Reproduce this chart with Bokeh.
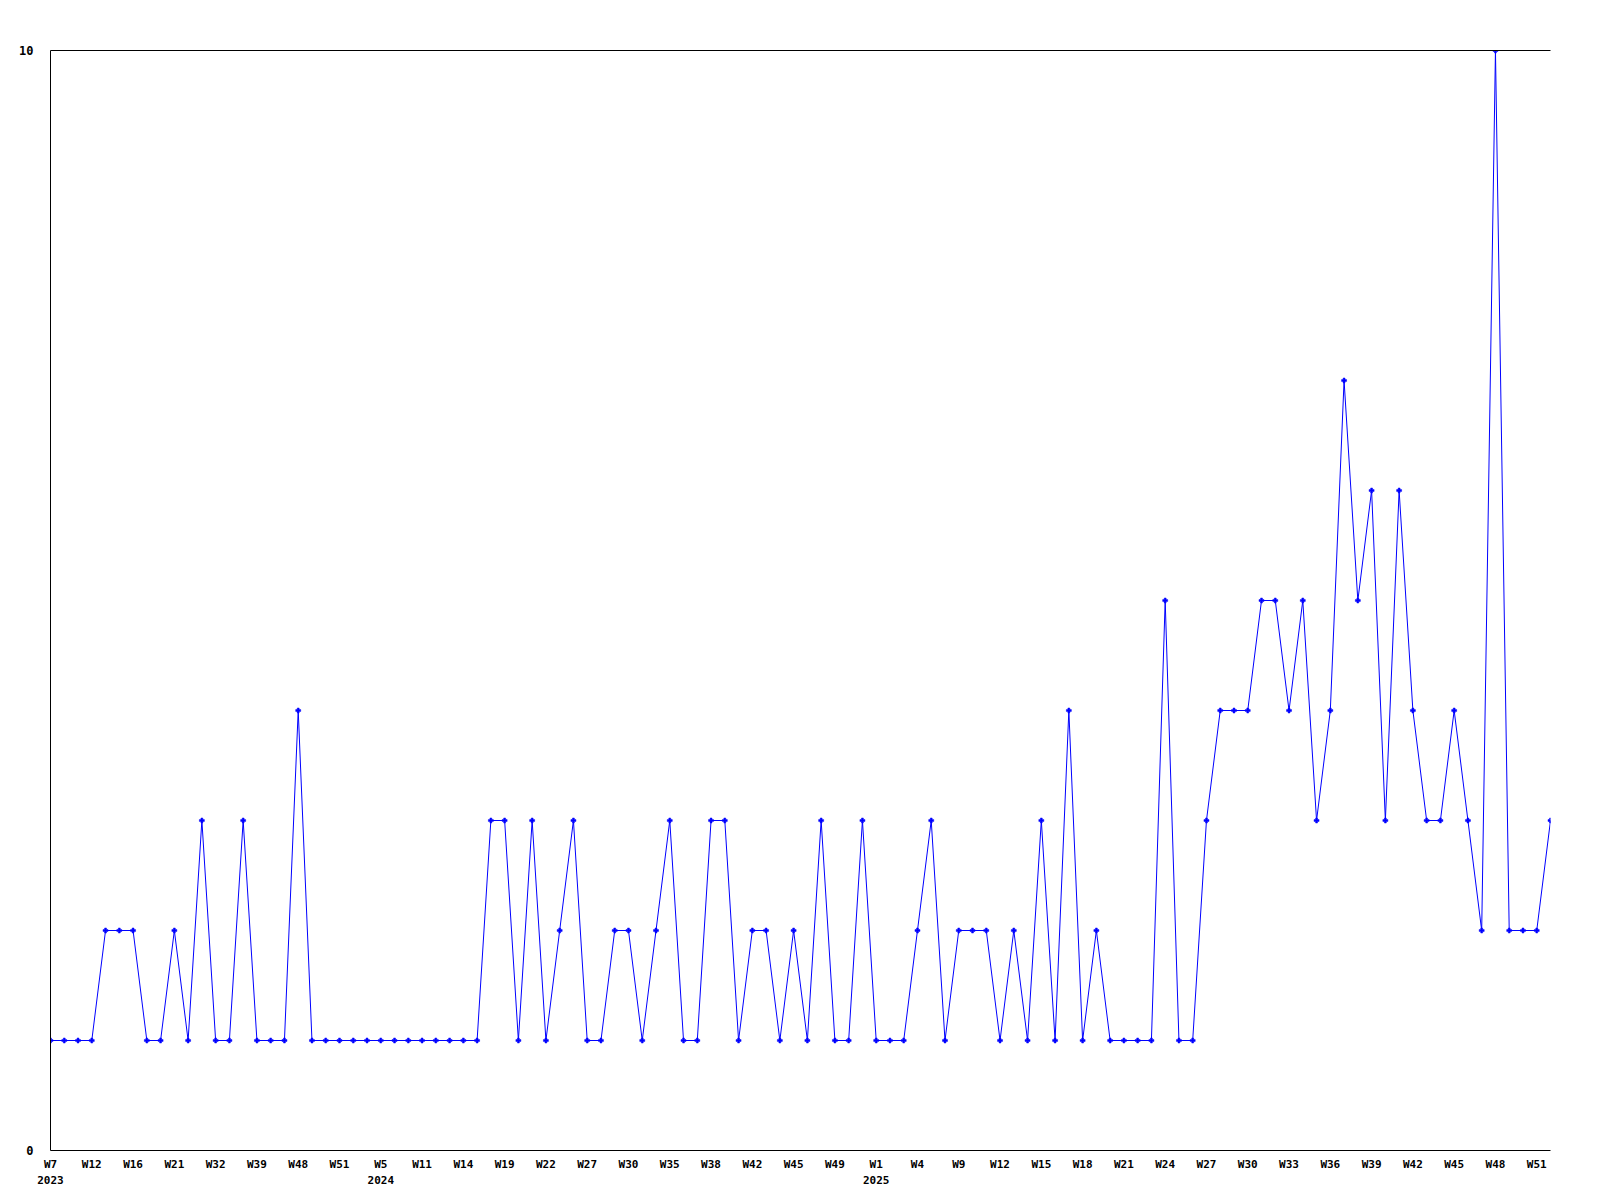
from bokeh.plotting import figure
from bokeh.models import Range1d, FixedTicker, LinearAxis
from bokeh.embed import file_html
from bokeh.resources import INLINE

# weekly counts, one per point (index 0 .. 109)
values = [
    1, 1, 1, 1, 2, 2, 2, 1, 1, 2,
    1, 3, 1, 1, 3, 1, 1, 1, 4, 1,
    1, 1, 1, 1, 1, 1, 1, 1, 1, 1,
    1, 1, 3, 3, 1, 3, 1, 2, 3, 1,
    1, 2, 2, 1, 2, 3, 1, 1, 3, 3,
    1, 2, 2, 1, 2, 1, 3, 1, 1, 3,
    1, 1, 1, 2, 3, 1, 2, 2, 2, 1,
    2, 1, 3, 1, 4, 1, 2, 1, 1, 1,
    1, 5, 1, 1, 3, 4, 4, 4, 5, 5,
    4, 5, 3, 4, 7, 5, 6, 3, 6, 4,
    3, 3, 4, 3, 2, 10, 2, 2, 2, 3,
]
x = list(range(len(values)))

# x tick labels (every third point)
tick_labels = [
    "W7", "W12", "W16", "W21", "W32", "W39", "W48", "W51", "W5", "W11",
    "W14", "W19", "W22", "W27", "W30", "W35", "W38", "W42", "W45", "W49",
    "W1", "W4", "W9", "W12", "W15", "W18", "W21", "W24", "W27", "W30",
    "W33", "W36", "W39", "W42", "W45", "W48", "W51",
]
tick_pos = [3 * i for i in range(len(tick_labels))]

year_labels = ["2023", "2024", "2025"]
year_pos = [0, 24, 60]

y_ticks = [0, 10]

FONT = "DejaVu Sans Mono"

p = figure(
    frame_width=1500, frame_height=1100,
    min_border_left=50, min_border_top=50, min_border_right=42, min_border_bottom=42,
    x_range=Range1d(0, len(values) - 1), y_range=Range1d(0, max(values)),
    output_backend="svg", toolbar_location=None,
    x_axis_location=None, y_axis_location=None,
)
p.outline_line_color = None
p.xgrid.visible = False
p.ygrid.visible = False
p.background_fill_color = "white"
p.border_fill_color = "white"

def style_axis(ax):
    ax.major_tick_line_color = None
    ax.minor_tick_line_color = None
    ax.major_label_text_font = FONT
    ax.major_label_text_font_style = "bold"
    ax.major_label_text_font_size = "11px"
    ax.major_label_text_color = "black"
    ax.axis_line_color = "black"
    ax.axis_line_width = 1

# left axis
ya = LinearAxis(ticker=FixedTicker(ticks=y_ticks))
style_axis(ya)
ya.major_label_text_font_size = "12px"
ya.major_label_standoff = 11
p.add_layout(ya, "left")

# bottom week axis
xa = LinearAxis(ticker=FixedTicker(ticks=tick_pos))
style_axis(xa)
xa.major_label_overrides = {pos: lab for pos, lab in zip(tick_pos, tick_labels)}
xa.major_label_standoff = 1
p.add_layout(xa, "below")

# year axis beneath
ya2 = LinearAxis(ticker=FixedTicker(ticks=year_pos))
style_axis(ya2)
ya2.axis_line_color = None
ya2.major_label_overrides = {pos: lab for pos, lab in zip(year_pos, year_labels)}
ya2.major_label_standoff = -4
p.add_layout(ya2, "below")

# top frame line
top = LinearAxis(ticker=FixedTicker(ticks=[]))
style_axis(top)
top.major_label_text_font_size = "0px"
p.add_layout(top, "above")

p.line(x, values, line_color="#0000ff", line_width=1)
p.scatter(x, values, marker="plus", size=5, fill_color="#0000ff", line_color="#0000ff", line_width=0.5)

open("out.html", "w").write(file_html(p, INLINE))
